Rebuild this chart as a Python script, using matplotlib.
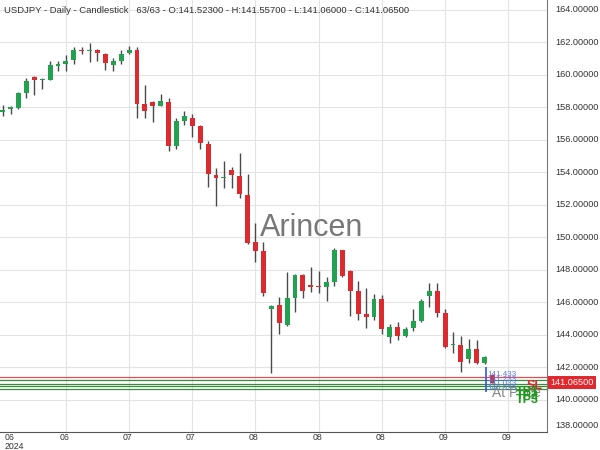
import matplotlib
matplotlib.use('Agg')
import matplotlib.pyplot as plt
from matplotlib.transforms import blended_transform_factory

plt.rcParams['font.family'] = ['Liberation Sans', 'DejaVu Sans']

opens = [157.71, 157.90, 157.97, 158.90, 159.86, 159.70, 159.69, 160.57, 160.66, 160.90,
         161.54, 161.48, 161.54, 161.30, 160.60, 160.82, 161.34, 161.54, 158.22, 158.30,
         158.09, 158.30, 155.65, 157.17, 157.37, 156.88, 155.75, 153.85, 153.68, 154.15,
         153.80, 152.60, 149.74, 149.17, 145.60, 145.85, 144.62, 146.30, 147.69, 147.06,
         147.02, 146.97, 147.28, 149.23, 147.96, 146.71, 145.27, 145.13, 146.20, 143.90,
         144.47, 143.96, 144.41, 144.88, 146.42, 146.71, 145.37, 143.36, 143.38, 142.50,
         143.16, 142.28, 141.523]
highs = [158.15, 158.10, 158.95, 159.83, 159.90, 159.80, 160.86, 160.86, 161.23, 161.70,
         161.74, 161.95, 161.56, 161.33, 161.06, 161.54, 161.78, 161.68, 159.38, 158.36,
         158.81, 158.57, 157.37, 157.78, 157.58, 156.90, 155.94, 154.26, 154.71, 154.32,
         155.22, 153.89, 150.89, 149.74, 145.85, 146.36, 147.90, 147.73, 147.73, 148.17,
         147.94, 147.59, 149.37, 149.25, 147.98, 147.32, 146.91, 146.50, 146.46, 144.66,
         144.82, 144.51, 145.58, 146.20, 147.18, 147.18, 145.58, 144.20, 143.94, 143.74,
         143.69, 142.70, 141.557]
lows = [157.48, 157.60, 157.90, 158.60, 158.73, 159.14, 159.65, 160.25, 160.26, 160.66,
        161.27, 160.78, 160.86, 160.30, 160.26, 160.66, 161.27, 157.37, 157.33, 157.09,
        158.05, 155.34, 155.45, 156.92, 156.20, 155.45, 153.09, 151.96, 153.06, 153.03,
        152.41, 149.58, 148.51, 146.42, 141.64, 144.04, 144.57, 145.43, 146.26, 146.67,
        146.57, 146.10, 147.03, 147.59, 145.19, 144.92, 144.45, 144.92, 144.04, 143.49,
        143.70, 143.90, 144.26, 144.82, 145.74, 145.09, 143.18, 142.87, 141.74, 142.30,
        142.20, 142.20, 141.06]
closes = [157.85, 158.00, 158.91, 159.63, 159.69, 159.75, 160.60, 160.66, 160.86, 161.50,
          161.48, 161.54, 161.37, 160.72, 160.82, 161.27, 161.54, 158.22, 157.80, 158.10,
          158.36, 155.65, 157.13, 157.48, 156.88, 155.80, 153.89, 153.68, 153.72, 153.85,
          152.66, 149.64, 149.19, 146.57, 145.78, 144.72, 146.30, 147.69, 146.71, 146.95,
          146.95, 147.24, 149.23, 147.65, 146.71, 145.27, 145.13, 146.22, 144.37, 144.51,
          143.94, 144.37, 144.86, 146.11, 146.71, 145.34, 143.28, 143.40, 142.36, 143.12,
          142.26, 142.65, 141.065]

y_ticks = [138, 140, 142, 144, 146, 148, 150, 152, 154, 156, 158, 160, 162, 164]
x_tick_pos = [0, 8, 16, 24, 32, 40, 48, 56, 64]
x_tick_labels = ["06\n2024", "06", "07", "07", "08", "08", "08", "09", "09"]

title = "USDJPY - Daily - Candlestick   63/63 - O:141.52300 - H:141.55700 - L:141.06000 - C:141.06500"
last_price = 141.065
sl_level = 141.40
tp_levels = [141.20, 141.00, 140.85, 140.70]
entry_labels = ["141.433", "141.233", "141.033", "140.933"]

GREEN = '#22a24e'
RED = '#dd2a2e'
WICK = '#4a4a4a'

fig = plt.figure(figsize=(6, 4.5), dpi=100)
ax = fig.add_axes([0, 18 / 450, 547 / 600, 432 / 450])
ax.set_xlim(-0.34, 68.9)
ax.set_ylim(138.03, 164.6)

for i, (o, h, l, c) in enumerate(zip(opens, highs, lows, closes)):
    col = GREEN if c >= o else RED
    ax.vlines(i, l, h, color=WICK, lw=1, zorder=3)
    height = max(abs(c - o), 0.06)
    ax.bar(i, height, bottom=min(o, c), width=0.62, color=col, zorder=4, linewidth=0)

# grid
for yv in y_ticks:
    ax.axhline(yv, color='#e3e3e3', lw=0.8, zorder=0)
for xv in x_tick_pos[1:]:
    ax.axvline(xv, color='#e3e3e3', lw=0.8, zorder=0)

# levels
ax.axhline(sl_level, color='#e05050', lw=0.9, zorder=2)
for lv in tp_levels:
    ax.axhline(lv, color='#3a8a3a', lw=0.9, zorder=2)

ax.set_xticks([])
ax.set_yticks([])
for s in ['top', 'left']:
    ax.spines[s].set_visible(False)
ax.spines['right'].set_color('#777777')
ax.spines['bottom'].set_color('#555555')

# right axis labels
tr = blended_transform_factory(ax.transAxes, ax.transData)
for yv in y_ticks:
    yy = yv if yv != 138 else 138.45
    ax.text(1.016, yy, f"{yv:.5f}", transform=tr, fontsize=6.6, color='#333333',
            va='center', ha='left', clip_on=False)
ax.text(1.006, last_price, f"{last_price:.5f}", transform=tr, fontsize=6.6, color='white',
        va='center', ha='left', clip_on=False,
        bbox=dict(boxstyle='square,pad=0.25', fc='#e0282e', ec='none'))

# x labels
trx = blended_transform_factory(ax.transData, ax.transAxes)
for xv, lab in zip(x_tick_pos, x_tick_labels):
    if xv == 0:
        ax.text(0.3, -0.003, lab, transform=trx, fontsize=6.3, color='#333333',
                va='top', ha='left', linespacing=0.9)
    else:
        ax.text(xv - 0.2, -0.003, lab, transform=trx, fontsize=6.3, color='#333333',
                va='top', ha='center')

# title
ax.text(0.008, 0.985, title, transform=ax.transAxes, fontsize=6.8, color='#333333',
        va='top', ha='left')

# watermark
ax.text(32.6, 150.6, "Arincen", fontsize=22, color='#777777', va='center', ha='left')

# annotation markers
ax.vlines(61.2, 140.5, 142.0, color='#3355dd', lw=1.2, zorder=5)
for k, lab in enumerate(entry_labels):
    ax.text(61.3, 141.55 - k * 0.28, lab, fontsize=5.8, color='#5577ee', va='center',
            ha='left', zorder=6)
ax.text(62.0, 140.45, "At Price", fontsize=10, color='#888888', va='center', ha='left', zorder=6)
ax.text(66.3, 140.85, "SL", fontsize=9, color=RED, va='center', ha='left',
        fontweight='bold', zorder=7)
for k, lab in enumerate(["TP1", "TP2", "TP3"]):
    ax.text(65.0, 140.5 - k * 0.25, lab, fontsize=9, color='#229922', va='center',
            ha='left', fontweight='bold', zorder=7)

fig.savefig('out.png', dpi=100)
